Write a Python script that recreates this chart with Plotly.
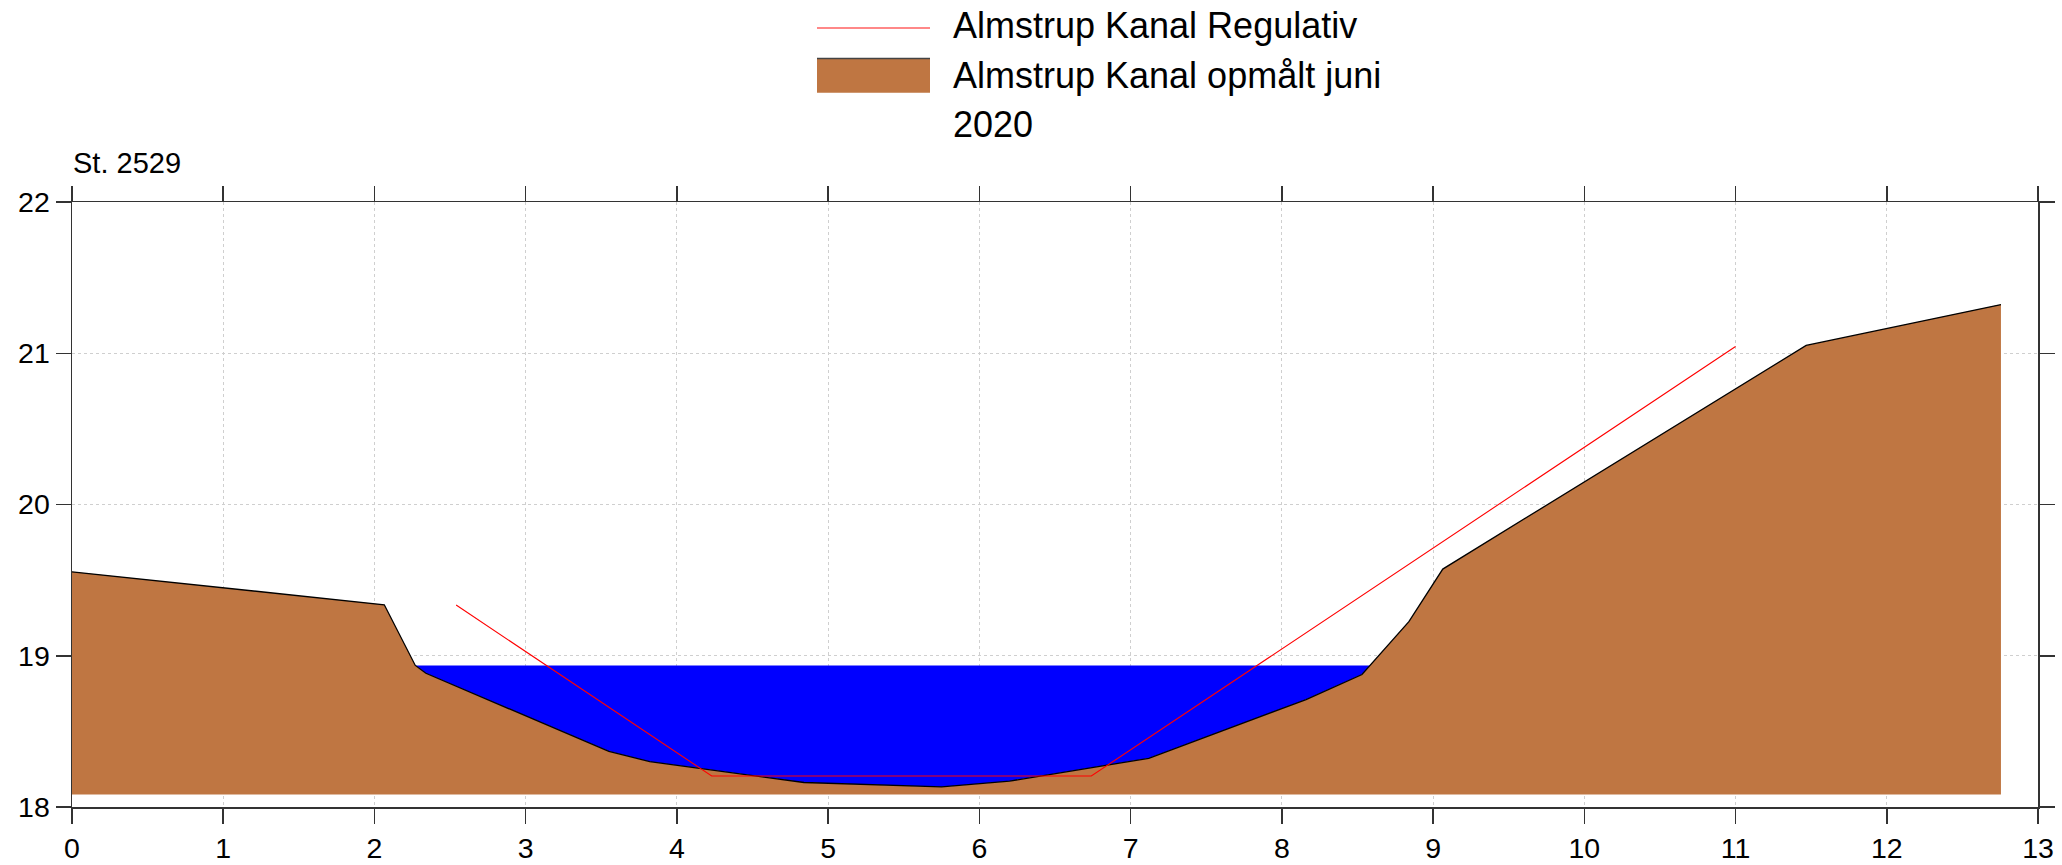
import numpy as np
import plotly.graph_objects as go

# ---- data ----
station_label = "St. 2529"
terrain_name = "Almstrup Kanal opmålt juni 2020"
regulativ_name = "Almstrup Kanal Regulativ"

terrain_x = [0.0, 2.065, 2.27, 2.34, 3.55, 3.82, 4.84, 5.75, 6.20, 7.12, 8.16, 8.53, 8.84, 9.064, 11.467, 12.755]
terrain_y = [19.555, 19.337, 18.936, 18.884, 18.368, 18.300, 18.162, 18.133, 18.171, 18.322, 18.71, 18.876, 19.225, 19.573, 21.052, 21.322]
terrain_base = 18.082
water_level = 18.936

reg_x = [2.54, 4.23, 6.74, 11.0]
reg_y = [19.335, 18.205, 18.205, 21.045]

x_ticks = list(range(0, 14))
y_ticks = [18, 19, 20, 21, 22]

# ---- styling ----
FONT = "Liberation Sans, Arial, sans-serif"
BROWN = "#BF7642"
BLUE = "#0000FF"
RED = "#FF0000"
AXIS = "#333333"

W, H = 2062, 865
ML, MR, MT, MB = 72, 24, 202, 58
PW, PH = W - ML - MR, H - MT - MB


def px_x(p):
    return (p - ML) / PW


def px_y(p):
    return (H - MB - p) / PH


# water polygon derived from terrain and water level
tx = np.array(terrain_x)
ty = np.array(terrain_y)
wx, wy = [], []
for i in range(len(tx) - 1):
    x0, y0, x1, y1 = tx[i], ty[i], tx[i + 1], ty[i + 1]
    if y0 <= water_level:
        wx.append(x0)
        wy.append(y0)
    if (y0 - water_level) * (y1 - water_level) < 0:
        xc = x0 + (water_level - y0) * (x1 - x0) / (y1 - y0)
        wx.append(xc)
        wy.append(water_level)

fig = go.Figure()

fig.add_trace(go.Scatter(x=wx, y=wy, mode="lines", fill="toself",
                         fillcolor=BLUE, line=dict(width=0, color=BLUE),
                         showlegend=False, hoverinfo="skip"))
fig.add_trace(go.Scatter(x=[terrain_x[0], terrain_x[-1]], y=[terrain_base, terrain_base],
                         mode="lines", line=dict(width=0, color=BROWN),
                         showlegend=False, hoverinfo="skip"))
fig.add_trace(go.Scatter(x=terrain_x, y=terrain_y, mode="lines", fill="tonexty",
                         fillcolor=BROWN, line=dict(color="black", width=1.3),
                         name=terrain_name, showlegend=False))
fig.add_trace(go.Scatter(x=reg_x, y=reg_y, mode="lines",
                         line=dict(color=RED, width=1.1),
                         name=regulativ_name, showlegend=False))

# manual legend
leg_x0, leg_x1 = px_x(817), px_x(930)
fig.add_shape(type="line", xref="paper", yref="paper",
              x0=leg_x0, x1=leg_x1, y0=px_y(28), y1=px_y(28),
              line=dict(color="#FF6060", width=1.6))
fig.add_shape(type="rect", xref="paper", yref="paper",
              x0=leg_x0, x1=leg_x1, y0=px_y(92.7), y1=px_y(58.5),
              fillcolor=BROWN, line=dict(width=0))
fig.add_shape(type="line", xref="paper", yref="paper",
              x0=leg_x0, x1=leg_x1, y0=px_y(58.5), y1=px_y(58.5),
              line=dict(color="#444444", width=1.5))

legend_lines = [regulativ_name, "Almstrup Kanal opmålt juni", "2020"]
legend_y_px = [25.8, 75.3, 124.7]
for txt, yp in zip(legend_lines, legend_y_px):
    fig.add_annotation(xref="paper", yref="paper", x=px_x(951), y=px_y(yp),
                       xanchor="left", yanchor="middle", text=txt, showarrow=False,
                       font=dict(family=FONT, size=36, color="black"))

fig.add_annotation(xref="paper", yref="paper", x=px_x(71), y=px_y(163.3),
                   xanchor="left", yanchor="middle", text=station_label, showarrow=False,
                   font=dict(family=FONT, size=29, color="black"))

axis_common = dict(showline=True, linecolor=AXIS, linewidth=1.5, mirror="ticks",
                   ticks="outside", ticklen=15, tickwidth=1.5, tickcolor=AXIS,
                   showgrid=True, gridcolor="#cfcfcf", griddash="dot", gridwidth=1,
                   zeroline=False, automargin=False,
                   tickfont=dict(family=FONT, size=28.5, color="black"))

fig.update_xaxes(range=[0, 13], tickvals=x_ticks, ticktext=[str(v) for v in x_ticks], **axis_common)
fig.update_yaxes(range=[18, 22], tickvals=y_ticks, ticktext=[str(v) for v in y_ticks], **axis_common)

fig.update_layout(width=W, height=H, margin=dict(l=ML, r=MR, t=MT, b=MB, autoexpand=False),
                  paper_bgcolor="white", plot_bgcolor="white", showlegend=False,
                  font=dict(family=FONT))

fig.write_html("out.html",
               config={"displayModeBar": False, "staticPlot": True},
               post_script="document.body.style.margin='0';document.body.style.padding='0';"
                           "document.body.style.overflow='hidden';")
